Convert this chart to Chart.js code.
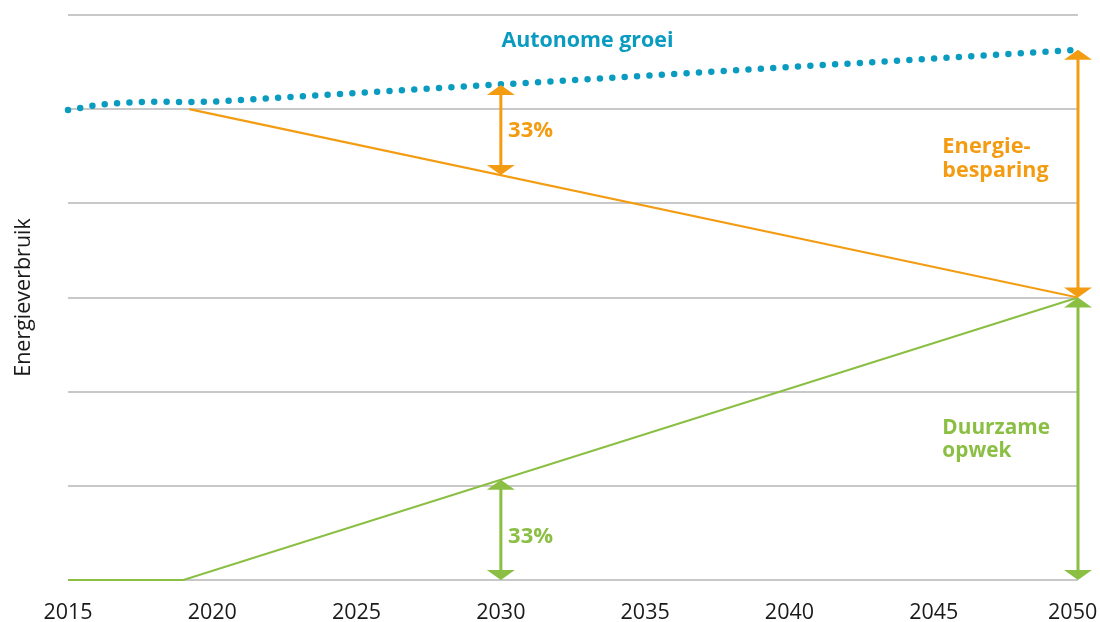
<!DOCTYPE html>
<html>
<head>
<meta charset="utf-8">
<script src="https://cdn.jsdelivr.net/npm/chart.js@4/dist/chart.umd.min.js"></script>
<style>
html,body{margin:0;padding:0;background:#fff;}
#wrap{width:1100px;height:622px;position:relative;}
</style>
</head>
<body>
<div id="wrap"><canvas id="c" width="1100" height="622"></canvas></div>
<script>
// ---- data ----
const tickYears = [2015, 2020, 2025, 2030, 2035, 2040, 2045, 2050];
const autonomeYears  = [2015, 2016, 2017, 2018, 2019, 2020, 2050];
const autonomeValues = [4.99, 5.045, 5.07, 5.08, 5.075, 5.08, 5.63];
const besparingYears  = [2019.2, 2050];
const besparingValues = [5.0, 3.0];
const opwekYears  = [2015, 2019, 2050];
const opwekValues = [0, 0, 3.0];
// arrows: year, from value, to value
const arrowYears = [2030, 2050, 2030, 2050];
const arrowFrom  = [5.256, 5.63, 0, 0];
const arrowTo    = [4.30, 3.0, 1.065, 3.0];
const arrowKinds = ['orange', 'orange', 'green', 'green'];
// text labels
const labelTexts  = ['Autonome groei', '33%', '33%', 'Energie-', 'besparing', 'Duurzame', 'opwek'];
const labelYears  = [2033.0, 2030.25, 2030.25, 2045.3, 2045.3, 2045.3, 2045.3];
const labelValues = [5.66, 4.70, 0.393, 4.534, 4.28, 1.55, 1.306];
const labelKinds  = ['teal', 'orange', 'green', 'orange', 'orange', 'green', 'green'];
const labelAlign  = ['center', 'left', 'left', 'left', 'left', 'left', 'left'];
const labelSizes  = [21.4, 22, 22, 21.8, 21.5, 20.8, 20.8];

const COLORS = { teal: '#0a9bc0', orange: '#f39c12', green: '#8bbf44' };
const FONT = '"Open Sans", "Noto Sans", sans-serif';

const toXY = (xs, ys) => xs.map((x, i) => ({ x: x, y: ys[i] }));

const annotationPlugin = {
  id: 'annots',
  afterDatasetsDraw(chart) {
    const ctx = chart.ctx;
    const xs = chart.scales.x, ys = chart.scales.y;
    const headH = 10, headW = 14;
    ctx.save();
    arrowYears.forEach((yr, i) => {
      const col = COLORS[arrowKinds[i]];
      const px = xs.getPixelForValue(yr);
      const y1 = ys.getPixelForValue(arrowFrom[i]);
      const y2 = ys.getPixelForValue(arrowTo[i]);
      const top = Math.min(y1, y2), bot = Math.max(y1, y2);
      ctx.strokeStyle = col; ctx.fillStyle = col; ctx.lineWidth = 3;
      ctx.beginPath(); ctx.moveTo(px, top + headH - 1); ctx.lineTo(px, bot - headH + 1); ctx.stroke();
      ctx.beginPath(); ctx.moveTo(px, top); ctx.lineTo(px - headW, top + headH); ctx.lineTo(px + headW, top + headH); ctx.closePath(); ctx.fill();
      ctx.beginPath(); ctx.moveTo(px, bot); ctx.lineTo(px - headW, bot - headH); ctx.lineTo(px + headW, bot - headH); ctx.closePath(); ctx.fill();
    });
    ctx.textBaseline = 'alphabetic';
    labelTexts.forEach((t, i) => {
      ctx.font = 'bold ' + labelSizes[i] + 'px ' + FONT;
      ctx.fillStyle = COLORS[labelKinds[i]];
      ctx.textAlign = labelAlign[i];
      ctx.fillText(t, xs.getPixelForValue(labelYears[i]), ys.getPixelForValue(labelValues[i]));
    });
    ctx.restore();
  }
};

new Chart(document.getElementById('c'), {
  type: 'line',
  data: {
    datasets: [
      {
        label: 'Autonome groei',
        data: toXY(autonomeYears, autonomeValues),
        borderColor: COLORS.teal,
        borderWidth: 6.5,
        borderDash: [0, 12.4],
        borderCapStyle: 'round',
        pointRadius: 0,
        fill: false,
        clip: false
      },
      {
        label: 'Energiebesparing',
        data: toXY(besparingYears, besparingValues),
        borderColor: COLORS.orange,
        borderWidth: 2.2,
        pointRadius: 0,
        fill: false
      },
      {
        label: 'Duurzame opwek',
        data: toXY(opwekYears, opwekValues),
        borderColor: COLORS.green,
        borderWidth: 2.2,
        pointRadius: 0,
        fill: false,
        clip: false
      }
    ]
  },
  options: {
    responsive: false,
    animation: false,
    layout: { padding: { top: 15, right: 22, left: 0, bottom: 0 } },
    plugins: { legend: { display: false }, tooltip: { enabled: false } },
    scales: {
      x: {
        type: 'linear',
        min: 2015, max: 2050,
        afterBuildTicks: (s) => { s.ticks = tickYears.map(v => ({ value: v })); },
        afterFit: (s) => { s.height = 42; s.paddingLeft = 0; s.paddingRight = 0; },
        grid: { display: false, drawTicks: false },
        border: { display: false },
        ticks: {
          color: '#1a1a1a',
          font: { family: FONT, size: 21.5 },
          padding: 20,
          maxRotation: 0,
          autoSkip: false,
          // keep the last label inside the canvas, as in the original
          callback: (v) => (v === tickYears[tickYears.length - 1] ? String(v) + '\u2002' : String(v))
        }
      },
      y: {
        min: 0, max: 6,
        afterFit: (s) => { s.width = 68; },
        ticks: { display: false, stepSize: 1 },
        grid: { color: '#c8c8c8', lineWidth: 2, drawTicks: false },
        border: { display: false },
        title: {
          display: true,
          text: 'Energieverbruik',
          color: '#1a1a1a',
          font: { family: FONT, size: 21.5 },
          padding: { top: 11, bottom: 0 }
        }
      }
    }
  },
  plugins: [annotationPlugin]
});
</script>
</body>
</html>
